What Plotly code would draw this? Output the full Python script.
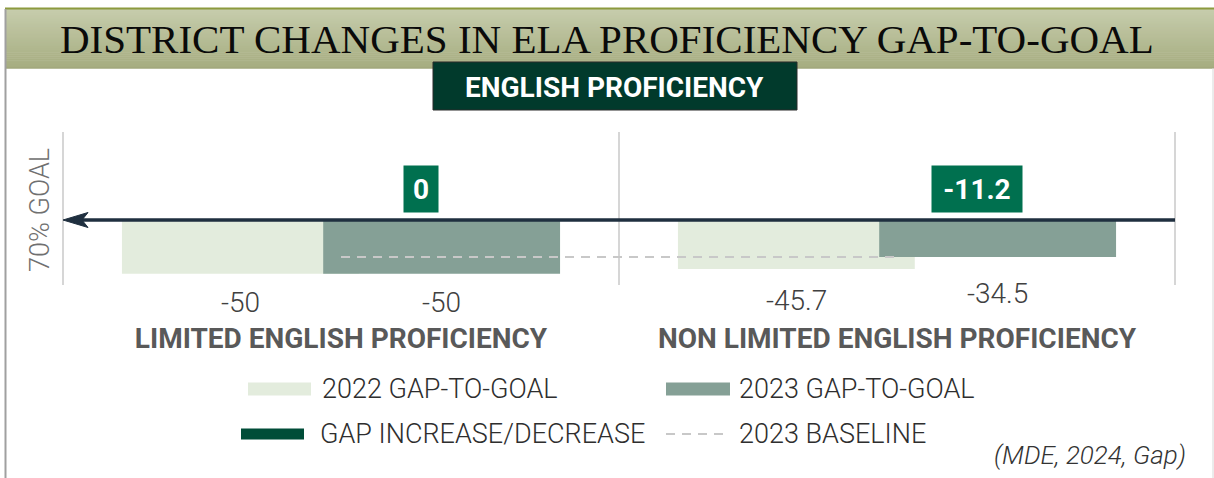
import plotly.graph_objects as go

# ---------------- data ----------------
categories = ["LIMITED ENGLISH PROFICIENCY", "NON LIMITED ENGLISH PROFICIENCY"]
gap_2022 = [-50, -45.7]
gap_2023 = [-50, -34.5]
gap_change = [0, -11.2]
baseline_2023 = [-34.5, -34.5]

title_text = "DISTRICT CHANGES IN ELA PROFICIENCY GAP-TO-GOAL"
subtitle_text = "ENGLISH PROFICIENCY"
axis_label = "70% GOAL"
legend_labels = ["2022 GAP-TO-GOAL", "2023 GAP-TO-GOAL", "GAP INCREASE/DECREASE", "2023 BASELINE"]
source_text = "(MDE, 2024, Gap)"

# ---------------- layout geometry (pixels) ----------------
W, H = 1214, 478
PL, PR, PT, PB = 63, 1175, 132, 285  # plot area edges


def px(x):
    return (x - PL) / (PR - PL)


def py(y):
    return (PB - y) / (PB - PT)


C2022 = "#e3ecdd"
C2023 = "#85a096"
CCHG = "#00704f"
CDARK = "#004d38"
CLINE = "#1f2f3f"
CGRID = "#d6d6d6"
CTEXT = "#404040"
LIGHT = dict(family="Roboto", weight=300)

fig = go.Figure()

bar_w = 0.426
off_2022, off_2023 = -0.394, -0.032
fig.add_trace(go.Bar(x=categories, y=gap_2022, name=legend_labels[0], marker=dict(color=C2022, line=dict(width=0)),
                     width=bar_w, offset=off_2022, hoverinfo="skip"))
fig.add_trace(go.Bar(x=categories, y=gap_2023, name=legend_labels[1], marker=dict(color=C2023, line=dict(width=0)),
                     width=bar_w, offset=off_2023, hoverinfo="skip"))
fig.add_trace(go.Scatter(x=categories, y=baseline_2023, mode="lines", name=legend_labels[3],
                         line=dict(color="#c8c8c8", width=2, dash="9px,7px"), hoverinfo="skip"))

shapes = []
annotations = []

# banner gradient
n = 30
top_c = (0xc6, 0xcc, 0xac)
bot_c = (0xa6, 0xad, 0x80)
y0b, y1b = 9, 68
for i in range(n):
    t = i / (n - 1)
    col = "rgb(%d,%d,%d)" % tuple(round(a + (b - a) * t) for a, b in zip(top_c, bot_c))
    ya = y0b + (y1b - y0b) * i / n
    yb = y0b + (y1b - y0b) * (i + 1) / n + 0.6
    shapes.append(dict(type="rect", xref="paper", yref="paper", x0=px(5), x1=px(1214), y0=py(ya), y1=py(yb),
                       fillcolor=col, line=dict(width=0), layer="below"))
shapes.append(dict(type="line", xref="paper", yref="paper", x0=px(5), x1=px(1214), y0=py(8.5), y1=py(8.5),
                   line=dict(color="#8c9a3e", width=2)))
shapes.append(dict(type="line", xref="paper", yref="paper", x0=px(5), x1=px(1214), y0=py(68), y1=py(68),
                   line=dict(color="#9ea37a", width=1)))
# frame borders
shapes.append(dict(type="line", xref="paper", yref="paper", x0=px(5.5), x1=px(5.5), y0=py(9), y1=py(478),
                   line=dict(color="#a0a0a0", width=2)))
shapes.append(dict(type="line", xref="paper", yref="paper", x0=px(1213), x1=px(1213), y0=py(68), y1=py(478),
                   line=dict(color="#d8d8d8", width=1)))
# subtitle box
shapes.append(dict(type="rect", xref="paper", yref="paper", x0=px(433), x1=px(797), y0=py(62), y1=py(110),
                   fillcolor="#013a2c", line=dict(color="#2a2a2a", width=1)))
# outer category separators (plot edges)
for xe in (0, 1):
    shapes.append(dict(type="line", xref="paper", yref="paper", x0=xe, x1=xe, y0=0, y1=1,
                       line=dict(color=CGRID, width=2), layer="below"))

# goal line with arrow
shapes.append(dict(type="line", xref="paper", yref="y", x0=px(80), x1=1, y0=0, y1=0,
                   line=dict(color=CLINE, width=3.5), layer="above"))
shapes.append(dict(type="path", xref="paper", yref="y", xsizemode="pixel", ysizemode="pixel", xanchor=0, yanchor=0,
                   path="M 0 0 L 25 7.5 L 19 0 L 25 -7.5 Z", fillcolor=CLINE, line=dict(color=CLINE, width=1),
                   layer="above"))

# title
annotations.append(dict(text=title_text, xref="paper", yref="paper", x=px(607), y=py(39), showarrow=False,
                        xanchor="center", yanchor="middle",
                        font=dict(family="Liberation Serif", size=41, color="#0a0a0a")))
annotations.append(dict(text=subtitle_text, xref="paper", yref="paper", x=px(614), y=py(87), showarrow=False,
                        xanchor="center", yanchor="middle",
                        font=dict(family="Roboto", size=28, color="white", weight="bold")))
# axis label
annotations.append(dict(text=axis_label, textangle=-90, xref="paper", yref="paper", x=px(40), y=py(210),
                        showarrow=False, xanchor="center", yanchor="middle",
                        font=dict(size=27, color="#707070", **LIGHT)))


# bar value labels
def label_shift(v):
    return -(29 + 0.45 * (50 + v))


for i, v in enumerate(gap_2022):
    annotations.append(dict(text="%g" % v, x=i + off_2022 + bar_w / 2, y=v, xref="x", yref="y", showarrow=False,
                            yshift=label_shift(v), xanchor="center", yanchor="middle",
                            font=dict(size=28, color=CTEXT, **LIGHT)))
for i, v in enumerate(gap_2023):
    annotations.append(dict(text="%g" % v, x=i + off_2023 + bar_w / 2, y=v, xref="x", yref="y", showarrow=False,
                            yshift=label_shift(v), xanchor="center", yanchor="middle",
                            font=dict(size=28, color=CTEXT, **LIGHT)))
# change boxes
for i, v in enumerate(gap_change):
    s = "%g" % v
    annotations.append(dict(text="<b>%s</b>" % s, x=i + 0.143, y=py(189), xref="x", yref="paper", showarrow=False,
                            xanchor="center", yanchor="middle", bgcolor=CCHG, borderpad=5,
                            width=14 * len(s) + 10, height=36,
                            font=dict(family="Roboto", size=28, color="white")))

# manual legend
LEG_FONT = dict(size=27, color="#2e2e2e", **LIGHT)
leg = [
    (248, 311, 389, 13, C2022, 320, legend_labels[0]),
    (666, 730, 389, 13, C2023, 737, legend_labels[1]),
    (241, 304, 434, 11, CDARK, 318, legend_labels[2]),
]
for x0, x1, yc, hgt, col, tx, lab in leg:
    shapes.append(dict(type="rect", xref="paper", yref="paper", x0=px(x0), x1=px(x1), y0=py(yc - hgt / 2),
                       y1=py(yc + hgt / 2), fillcolor=col, line=dict(width=0)))
    annotations.append(dict(text=lab, xref="paper", yref="paper", x=px(tx), y=py(yc), showarrow=False,
                            xanchor="left", yanchor="middle", font=LEG_FONT))
shapes.append(dict(type="line", xref="paper", yref="paper", x0=px(666), x1=px(728), y0=py(434), y1=py(434),
                   line=dict(color="#c8c8c8", width=2, dash="9px,7px")))
annotations.append(dict(text=legend_labels[3], xref="paper", yref="paper", x=px(737), y=py(434), showarrow=False,
                        xanchor="left", yanchor="middle", font=LEG_FONT))
annotations.append(dict(text="<i>%s</i>" % source_text, xref="paper", yref="paper", x=px(1188), y=py(455),
                        showarrow=False, xanchor="right", yanchor="middle",
                        font=dict(size=26, color="#333333", **LIGHT)))

fig.update_layout(
    width=W, height=H,
    margin=dict(l=PL, r=W - PR, t=PT, b=H - PB, pad=0),
    paper_bgcolor="white", plot_bgcolor="white",
    barmode="overlay", showlegend=False,
    shapes=shapes, annotations=annotations,
    xaxis=dict(type="category", range=[-0.5, 1.5], tickson="boundaries", showgrid=True, gridcolor=CGRID,
               gridwidth=2, showline=False, zeroline=False, ticks="", ticklabelstandoff=34,
               tickfont=dict(family="Roboto", size=28, color="#595959", weight="bold"), fixedrange=True),
    yaxis=dict(range=[-60.5, 81.9], showgrid=False, zeroline=False, showticklabels=False, ticks="",
               showline=False, fixedrange=True),
)

fig.write_html("out.html", config={"displayModeBar": False},
               post_script="document.body.style.margin='0px';")
